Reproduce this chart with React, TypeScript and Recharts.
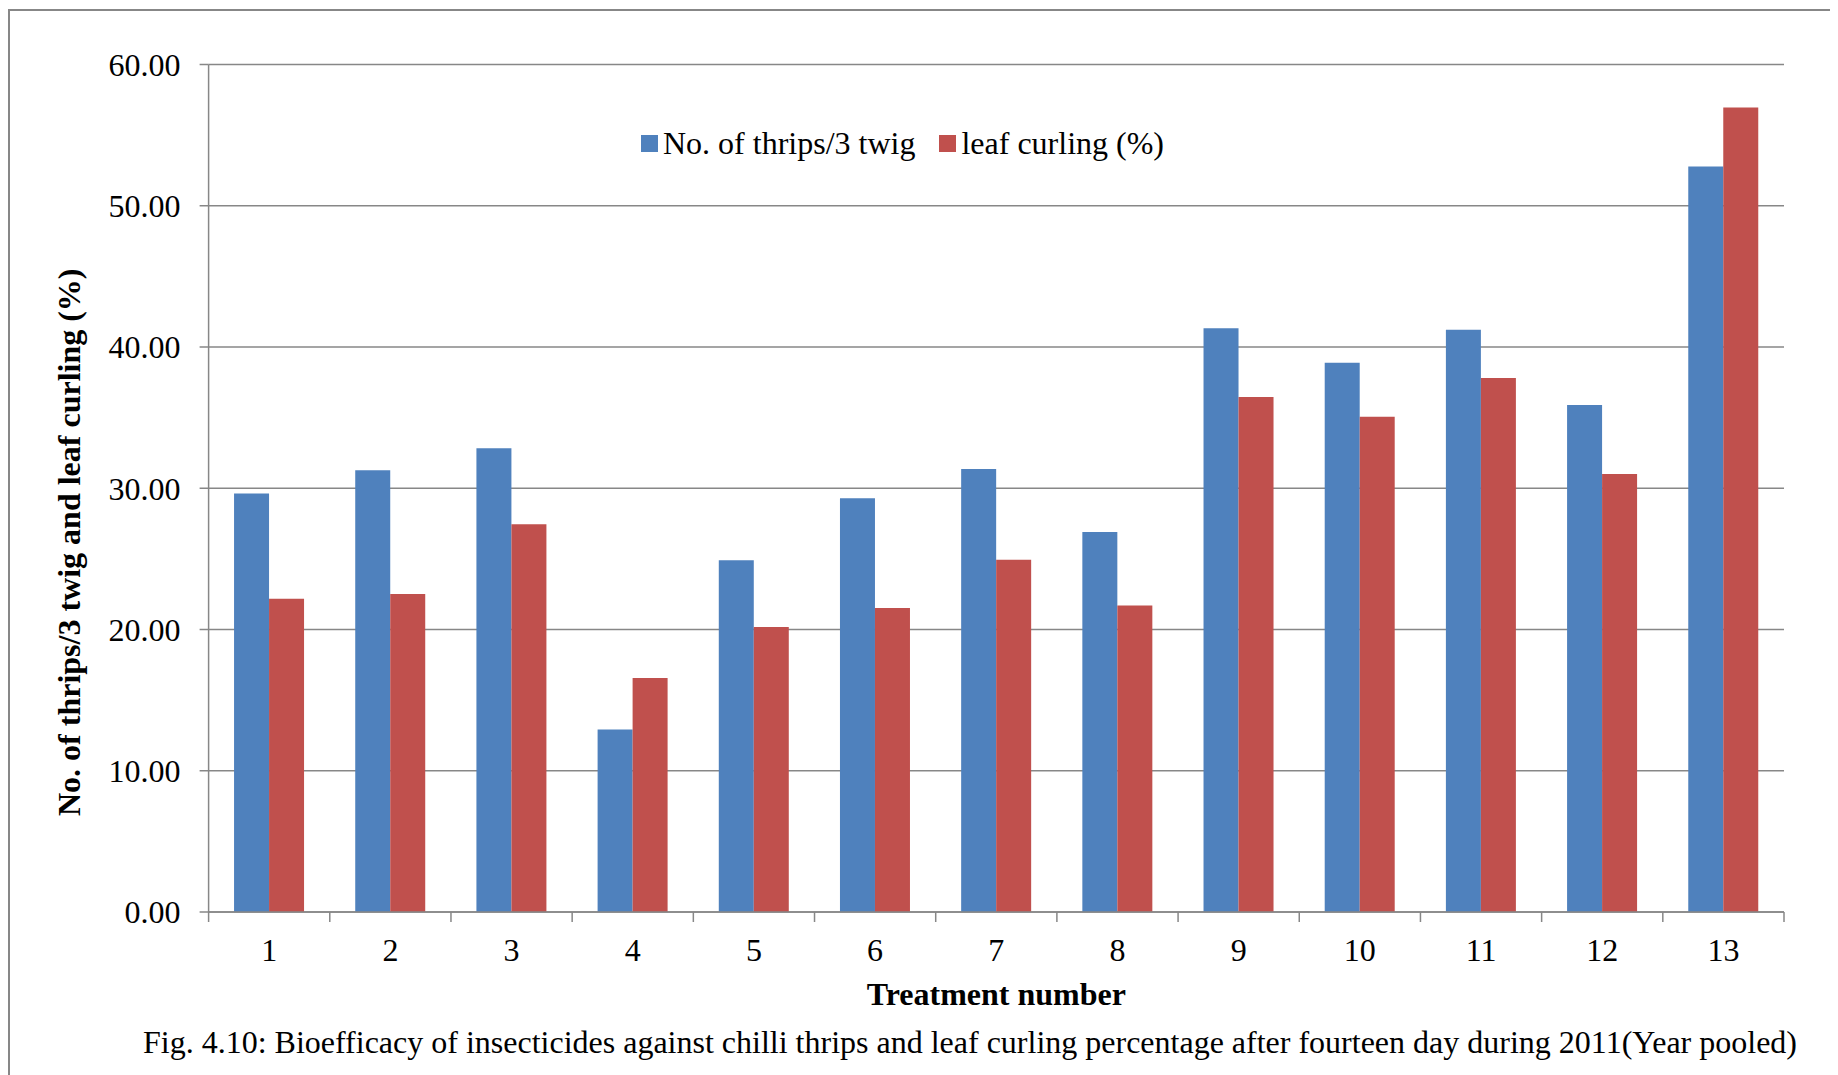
import { BarChart, Bar, XAxis, YAxis, CartesianGrid, Legend, Label } from 'recharts';

const treatments = ['1', '2', '3', '4', '5', '6', '7', '8', '9', '10', '11', '12', '13'];
const thripsPerTwig = [29.62, 31.27, 32.83, 12.92, 24.91, 29.29, 31.37, 26.91, 41.32, 38.89, 41.23, 35.9, 52.78];
const leafCurling = [22.17, 22.52, 27.45, 16.56, 20.17, 21.53, 24.93, 21.7, 36.46, 35.07, 37.81, 31.01, 56.96];
const yTicks = [0, 10, 20, 30, 40, 50, 60];

const data = treatments.map((t, i) => ({
  treatment: t,
  thrips: thripsPerTwig[i],
  curling: leafCurling[i],
}));

const FONT = '"Liberation Serif", "Times New Roman", serif';
const GRID = '#878787';
const BLUE = '#4F81BD';
const RED = '#C0504D';

const CHART_W = 1830;
const CHART_H = 1067;
const MARGIN = { top: 56.5, right: 54, left: 0, bottom: 0 };
const Y_AXIS_W = 200.6;
const X_AXIS_H = 163;
const BAND = (CHART_W - MARGIN.right - MARGIN.left - Y_AXIS_W) / treatments.length;

// category ticks sit on the band edges, labels in the middle
const TreatmentTick = (props: any) => {
  const { x, y, payload, index } = props;
  const last = index === treatments.length - 1;
  return (
    <g>
      <line x1={x - BAND / 2} x2={x - BAND / 2} y1={y} y2={y + 10} stroke={GRID} strokeWidth={1.5} />
      {last && <line x1={x + BAND / 2} x2={x + BAND / 2} y1={y} y2={y + 10} stroke={GRID} strokeWidth={1.5} />}
      <text x={x} y={y + 49} textAnchor="middle" fontSize={32} fontFamily={FONT} fill="#000">
        {payload.value}
      </text>
    </g>
  );
};

const renderLegend = (props: any) => {
  const { payload = [] } = props;
  return (
    <div style={{ display: 'flex', alignItems: 'center', fontFamily: FONT, fontSize: 32, lineHeight: '32px', color: '#000' }}>
      {payload.map((p: any, i: number) => (
        <div key={p.value} style={{ display: 'flex', alignItems: 'center', marginRight: i < payload.length - 1 ? 24 : 0 }}>
          <span style={{ display: 'inline-block', width: 17, height: 17, background: p.color, marginRight: 5 }} />
          <span style={{ whiteSpace: 'nowrap' }}>{p.value}</span>
        </div>
      ))}
    </div>
  );
};

const App = () => {
  return (
    <div style={{ position: 'relative', width: CHART_W, height: CHART_H, fontFamily: FONT }}>
      <div
        style={{
          position: 'absolute',
          left: 0,
          top: 1,
          width: CHART_W,
          height: CHART_H,
          borderLeft: `2px solid ${GRID}`,
          borderTop: `2px solid ${GRID}`,
        }}
      />
      <div style={{ position: 'absolute', left: 0, top: 0 }}>
        <BarChart width={CHART_W} height={CHART_H} data={data} margin={MARGIN} barCategoryGap="21%" barGap={0}>
          <CartesianGrid vertical={false} stroke={GRID} strokeWidth={1.5} />
          <XAxis
            dataKey="treatment"
            height={X_AXIS_H}
            axisLine={{ stroke: GRID, strokeWidth: 1.5 }}
            tickLine={false}
            tickSize={0}
            tickMargin={0}
            interval={0}
            tick={<TreatmentTick />}
          >
            <Label
              value="Treatment number"
              position="insideTop"
              offset={70}
              fill="#000"
              fontSize={32}
              fontWeight="bold"
              fontFamily={FONT}
            />
          </XAxis>
          <YAxis
            width={Y_AXIS_W}
            domain={[0, 60]}
            ticks={yTicks}
            interval={0}
            tickFormatter={(v: number) => v.toFixed(2)}
            axisLine={{ stroke: GRID, strokeWidth: 1.5 }}
            tickLine={{ stroke: GRID, strokeWidth: 1.5 }}
            tickSize={9}
            tickMargin={19}
            tick={{ fill: '#000', fontSize: 32, fontFamily: FONT }}
          >
            <Label
              content={(lp: any) => {
                const vb = lp.viewBox || { x: 0, y: MARGIN.top, height: 847.5 };
                const cx = vb.x + 72;
                const cy = vb.y + vb.height / 2 + 54;
                return (
                  <text
                    x={cx}
                    y={cy}
                    transform={`rotate(-90 ${cx} ${cy})`}
                    textAnchor="middle"
                    fontSize={32}
                    fontWeight="bold"
                    fontFamily={FONT}
                    fill="#000"
                  >
                    No. of thrips/3 twig and leaf curling (%)
                  </text>
                );
              }}
            />
          </YAxis>
          {/* centred + middle keeps the legend out of the plot offset; placed by wrapperStyle */}
          <Legend
            layout="horizontal"
            verticalAlign="middle"
            align="center"
            content={renderLegend}
            wrapperStyle={{ left: 633, top: 119, width: 'auto' }}
          />
          <Bar dataKey="thrips" name="No. of thrips/3 twig" fill={BLUE} isAnimationActive={false} />
          <Bar dataKey="curling" name="leaf curling (%)" fill={RED} isAnimationActive={false} />
        </BarChart>
      </div>
      <div
        style={{
          position: 'absolute',
          left: 135,
          top: 1018,
          fontSize: 32,
          lineHeight: '32px',
          whiteSpace: 'nowrap',
          color: '#000',
        }}
      >
        Fig. 4.10: Bioefficacy of insecticides against chilli thrips and leaf curling percentage after fourteen day during 2011(Year pooled)
      </div>
    </div>
  );
};

export default App;
